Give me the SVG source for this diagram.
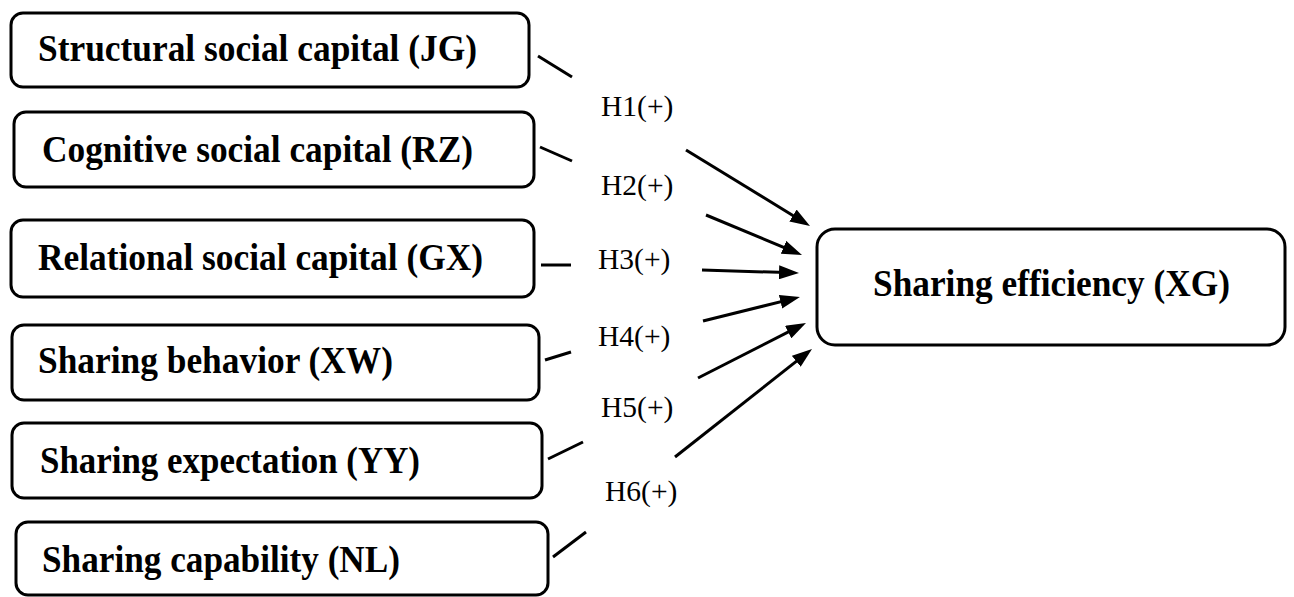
<svg xmlns="http://www.w3.org/2000/svg" width="1294" height="597" viewBox="0 0 1294 597">
<style>
.box{fill:#fff;stroke:#000;stroke-width:3}
.lbl{font-family:"Liberation Serif","Times New Roman",serif;font-weight:bold;font-size:37px;fill:#000}
.h{font-family:"Liberation Serif","Times New Roman",serif;font-size:29.5px;fill:#000}
.ln{stroke:#000;stroke-width:3;fill:none}
</style>
<defs>
<marker id="ah" markerUnits="userSpaceOnUse" markerWidth="20" markerHeight="14" viewBox="0 0 20 14" refX="8" refY="7" orient="auto">
<path d="M0,0 L20,7 L0,14 z" fill="#000"/>
</marker>
</defs>
<rect width="1294" height="597" fill="#fff"/>
<g id="n1"><rect class="box" x="11" y="13" width="518" height="74" rx="12"/><text class="lbl" x="38" y="61" textLength="439" lengthAdjust="spacingAndGlyphs">Structural social capital (JG)</text></g>
<g id="n2"><rect class="box" x="14" y="112" width="520" height="75" rx="12"/><text class="lbl" x="42" y="162" textLength="431" lengthAdjust="spacingAndGlyphs">Cognitive social capital (RZ)</text></g>
<g id="n3"><rect class="box" x="11" y="220" width="523" height="77" rx="12"/><text class="lbl" x="38" y="270" textLength="445" lengthAdjust="spacingAndGlyphs">Relational social capital (GX)</text></g>
<g id="n4"><rect class="box" x="12" y="325" width="527" height="75" rx="12"/><text class="lbl" x="38" y="373" textLength="355" lengthAdjust="spacingAndGlyphs">Sharing behavior (XW)</text></g>
<g id="n5"><rect class="box" x="12" y="423" width="530" height="75" rx="12"/><text class="lbl" x="40" y="473" textLength="380" lengthAdjust="spacingAndGlyphs">Sharing expectation (YY)</text></g>
<g id="n6"><rect class="box" x="16" y="522" width="532" height="73" rx="12"/><text class="lbl" x="42" y="572" textLength="358" lengthAdjust="spacingAndGlyphs">Sharing capability (NL)</text></g>
<g id="target"><rect class="box" x="817" y="229" width="468" height="116" rx="18"/><text class="lbl" x="873" y="296" textLength="357" lengthAdjust="spacingAndGlyphs">Sharing efficiency (XG)</text></g>
<g id="connectors">
<line class="ln" x1="538" y1="56" x2="572" y2="77"/>
<line class="ln" x1="540" y1="147" x2="572" y2="161"/>
<line class="ln" x1="541" y1="265" x2="571" y2="265"/>
<line class="ln" x1="545" y1="360" x2="571" y2="352"/>
<line class="ln" x1="548" y1="459" x2="583" y2="442"/>
<line class="ln" x1="553" y1="557" x2="586" y2="532"/>
<line class="ln" x1="686" y1="150" x2="799.8" y2="219.7" marker-end="url(#ah)"/>
<line class="ln" x1="706" y1="215" x2="790.9" y2="250.4" marker-end="url(#ah)"/>
<line class="ln" x1="702" y1="270" x2="787" y2="272.6" marker-end="url(#ah)"/>
<line class="ln" x1="703" y1="321" x2="788.3" y2="299.9" marker-end="url(#ah)"/>
<line class="ln" x1="698" y1="378" x2="795.3" y2="328.4" marker-end="url(#ah)"/>
<line class="ln" x1="675" y1="457" x2="802.6" y2="356.4" marker-end="url(#ah)"/>
<text class="h" x="601" y="116">H1(+)</text>
<text class="h" x="601" y="195">H2(+)</text>
<text class="h" x="598" y="269">H3(+)</text>
<text class="h" x="598" y="346">H4(+)</text>
<text class="h" x="601" y="417">H5(+)</text>
<text class="h" x="605" y="501">H6(+)</text>
</g>
</svg>
